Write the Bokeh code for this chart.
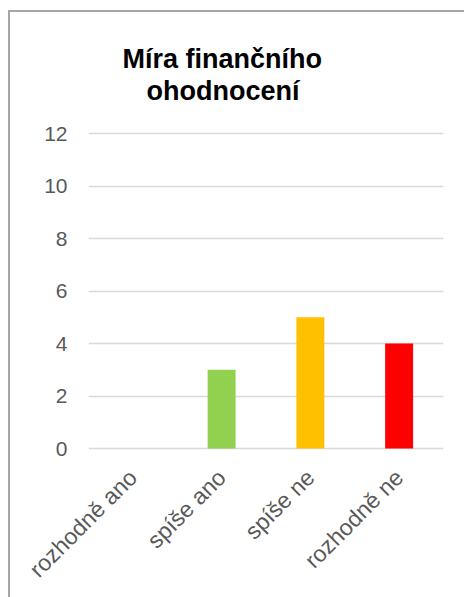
from bokeh.plotting import figure
from bokeh.models import ColumnDataSource, Range1d, FactorRange, Title, FixedTicker
from bokeh.embed import file_html
from bokeh.resources import INLINE

categories = ["rozhodně ano", "spíše ano", "spíše ne", "rozhodně ne"]
values = [0, 3, 5, 4]
colors = ["#92D050", "#92D050", "#FFC000", "#FF0000"]
y_ticks = [0, 2, 4, 6, 8, 10, 12]
title_lines = ["Míra finančního", "ohodnocení"]

src = ColumnDataSource(dict(cat=categories, val=values, col=colors))

p = figure(x_range=FactorRange(*categories, range_padding=0),
           y_range=Range1d(-0.114, 13.067),
           frame_width=355, frame_height=346,
           min_border_left=78, min_border_right=21,
           min_border_top=93, min_border_bottom=146,
           output_backend="svg", toolbar_location=None,
           styles={"margin-left": "8px", "margin-top": "10px",
                   "border-left": "2px solid #A6A6A6", "border-top": "2px solid #A6A6A6"})

p.vbar(x="cat", top="val", bottom=0, width=0.315, fill_color="col", line_color=None, source=src)

p.outline_line_color = None
p.background_fill_color = "white"
p.border_fill_color = "white"

p.xgrid.grid_line_color = None
p.ygrid.grid_line_color = "#D9D9D9"
p.ygrid.grid_line_width = 1.5
p.yaxis.ticker = FixedTicker(ticks=y_ticks)

for ax in (p.xaxis[0], p.yaxis[0]):
    ax.axis_line_color = None
    ax.major_tick_line_color = None
    ax.minor_tick_line_color = None
    ax.major_tick_out = 0
    ax.major_tick_in = 0
    ax.major_label_text_font = "Liberation Sans"
    ax.major_label_text_color = "#595959"

p.yaxis.major_label_text_font_size = "21px"
p.xaxis.major_label_text_font_size = "23px"
p.yaxis.major_label_standoff = 21
p.xaxis.major_label_orientation = 0.785398
p.xaxis.major_label_standoff = 22

p.add_layout(Title(text=title_lines[1], align="left", offset=58, standoff=0,
                   text_font="Liberation Sans", text_font_style="bold",
                   text_font_size="27px", text_color="black"), "above")
p.add_layout(Title(text=title_lines[0], align="left", offset=34, standoff=0,
                   text_font="Liberation Sans", text_font_style="bold",
                   text_font_size="27px", text_color="black"), "above")

open("out.html", "w").write(file_html(p, INLINE))
